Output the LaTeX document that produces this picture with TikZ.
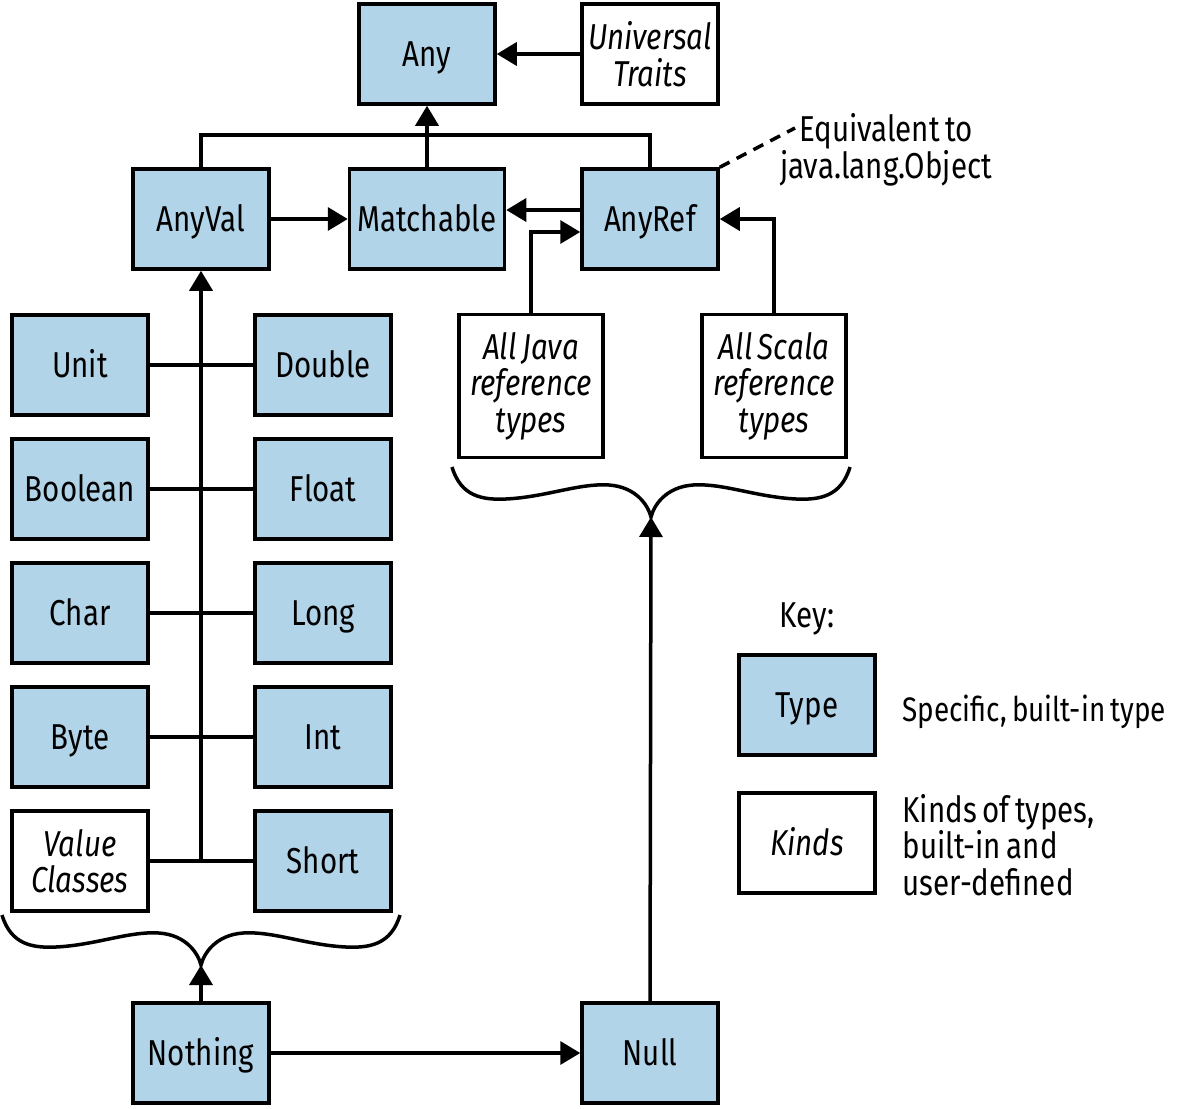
\documentclass[tikz,border=0pt]{standalone}
\usepackage{fontspec}
\setmainfont{Fira Sans}[FakeStretch=0.82,WordSpace=0.7]
\usetikzlibrary{arrows.meta,calc}
\definecolor{typeblue}{RGB}{178,212,233}
\begin{document}
\begin{tikzpicture}[x=1pt,y=-1pt,
  every node/.style={font=\fontsize{36}{36.5}\selectfont},
  base/.style={draw=black,line width=3.5pt,minimum width=136pt,minimum height=100pt,inner sep=0pt,align=center},
  one/.style={text height=25pt,text depth=0pt},
  typebox/.style={base,fill=typeblue},
  kindbox/.style={base,fill=white,font=\fontsize{36}{36.5}\selectfont\itshape},
  conn/.style={line width=3.5pt},
  arr/.style={conn,-{Triangle[length=20pt,width=23pt]}},
  bracepath/.style={line width=3.5pt}
]
\useasboundingbox (0,0) rectangle (1177,1108);

% top
\node[typebox,one] (Any) at (427,54) {Any};
\node[kindbox] (UT) at (650,54) {Universal\\Traits};
\node[typebox,one] (AnyVal) at (201,219) {AnyVal};
\node[typebox,one,minimum width=155pt] (Matchable) at (427,219) {Matchable};
\node[typebox,one] (AnyRef) at (650,219) {AnyRef};

% value types
\node[typebox,one] (Unit) at (80,365) {Unit};
\node[typebox,one] (Double) at (323,365) {Double};
\node[typebox,one] (Boolean) at (80,489) {Boolean};
\node[typebox,one] (Float) at (323,489) {Float};
\node[typebox,one] (Char) at (80,613) {Char};
\node[typebox,one] (Long) at (323,613) {Long};
\node[typebox,one] (Byte) at (80,737) {Byte};
\node[typebox,one] (Int) at (323,737) {Int};
\node[kindbox] (VC) at (80,861) {Value\\Classes};
\node[typebox,one] (Short) at (323,861) {Short};

% reference kinds
\node[kindbox,minimum width=144pt,minimum height=143pt] (Java) at (531,386) {All Java\\reference\\types};
\node[kindbox,minimum width=144pt,minimum height=143pt] (Scala) at (774,386) {All Scala\\reference\\types};

% bottom
\node[typebox,one] (Nothing) at (201,1053) {Nothing};
\node[typebox,one] (Null) at (650,1053) {Null};

% note
\node[align=center] (equiv) at (886,150) {Equivalent to\\java.lang.Object};
\coordinate (eqend) at (795,128);
\draw[conn,dash pattern=on 11pt off 8pt] (AnyRef.north east) -- (eqend);

% key
\node[one] (key) at (807,615) {Key:};
\node[typebox,one] (KType) at (807,705) {Type};
\node[kindbox,one] (KKinds) at (807,843) {Kinds};
\node[anchor=west,one,font=\fontsize{34}{36}\selectfont] (KTypeTxt) at (899,709) {Specific, built-in type};
\node[anchor=west,align=left] (KKindsTxt) at (899,845) {Kinds of types,\\built-in and\\user-defined};

% braces
\coordinate (b1) at (201,965);
\coordinate (b2) at (651,517);
\foreach \c in {b1,b2}{
  \begin{scope}[shift={(\c)}]
    \draw[bracepath] (-199,-50) .. controls (-190,-20) and (-168,-17) .. (-145,-18)
      .. controls (-105,-20) and (-72,-34) .. (-42,-32)
      .. controls (-15,-30) and (-3,-12) .. (0,0)
      .. controls (3,-12) and (15,-30) .. (42,-32)
      .. controls (72,-34) and (105,-20) .. (145,-18)
      .. controls (168,-17) and (190,-20) .. (199,-50);
  \end{scope}
}

% connectors
\coordinate (jn) at (427,135);
\draw[conn] (AnyVal.north) |- (jn) -| (AnyRef.north);
\draw[arr] (Matchable.north) -- (Any.south);
\draw[arr] (UT) -- (Any);
\draw[arr] (AnyVal) -- (Matchable);
\draw[arr] ([yshift=9pt]AnyRef.west) -- ([yshift=9pt]Matchable.east);
\draw[arr] (Java.north) |- ([yshift=-13pt]AnyRef.west);
\draw[arr] (Scala.north) |- (AnyRef.east);

\draw[arr] (AnyVal.south |- Short.west) -- (AnyVal.south);
\draw[conn] (Unit) -- (Double);
\draw[conn] (Boolean) -- (Float);
\draw[conn] (Char) -- (Long);
\draw[conn] (Byte) -- (Int);
\draw[conn] (VC) -- (Short);

\draw[arr] (Nothing.north) -- (b1);
\draw[arr] (Nothing) -- (Null);
\draw[arr] (Null.north) -- (b2);
\end{tikzpicture}
\end{document}
